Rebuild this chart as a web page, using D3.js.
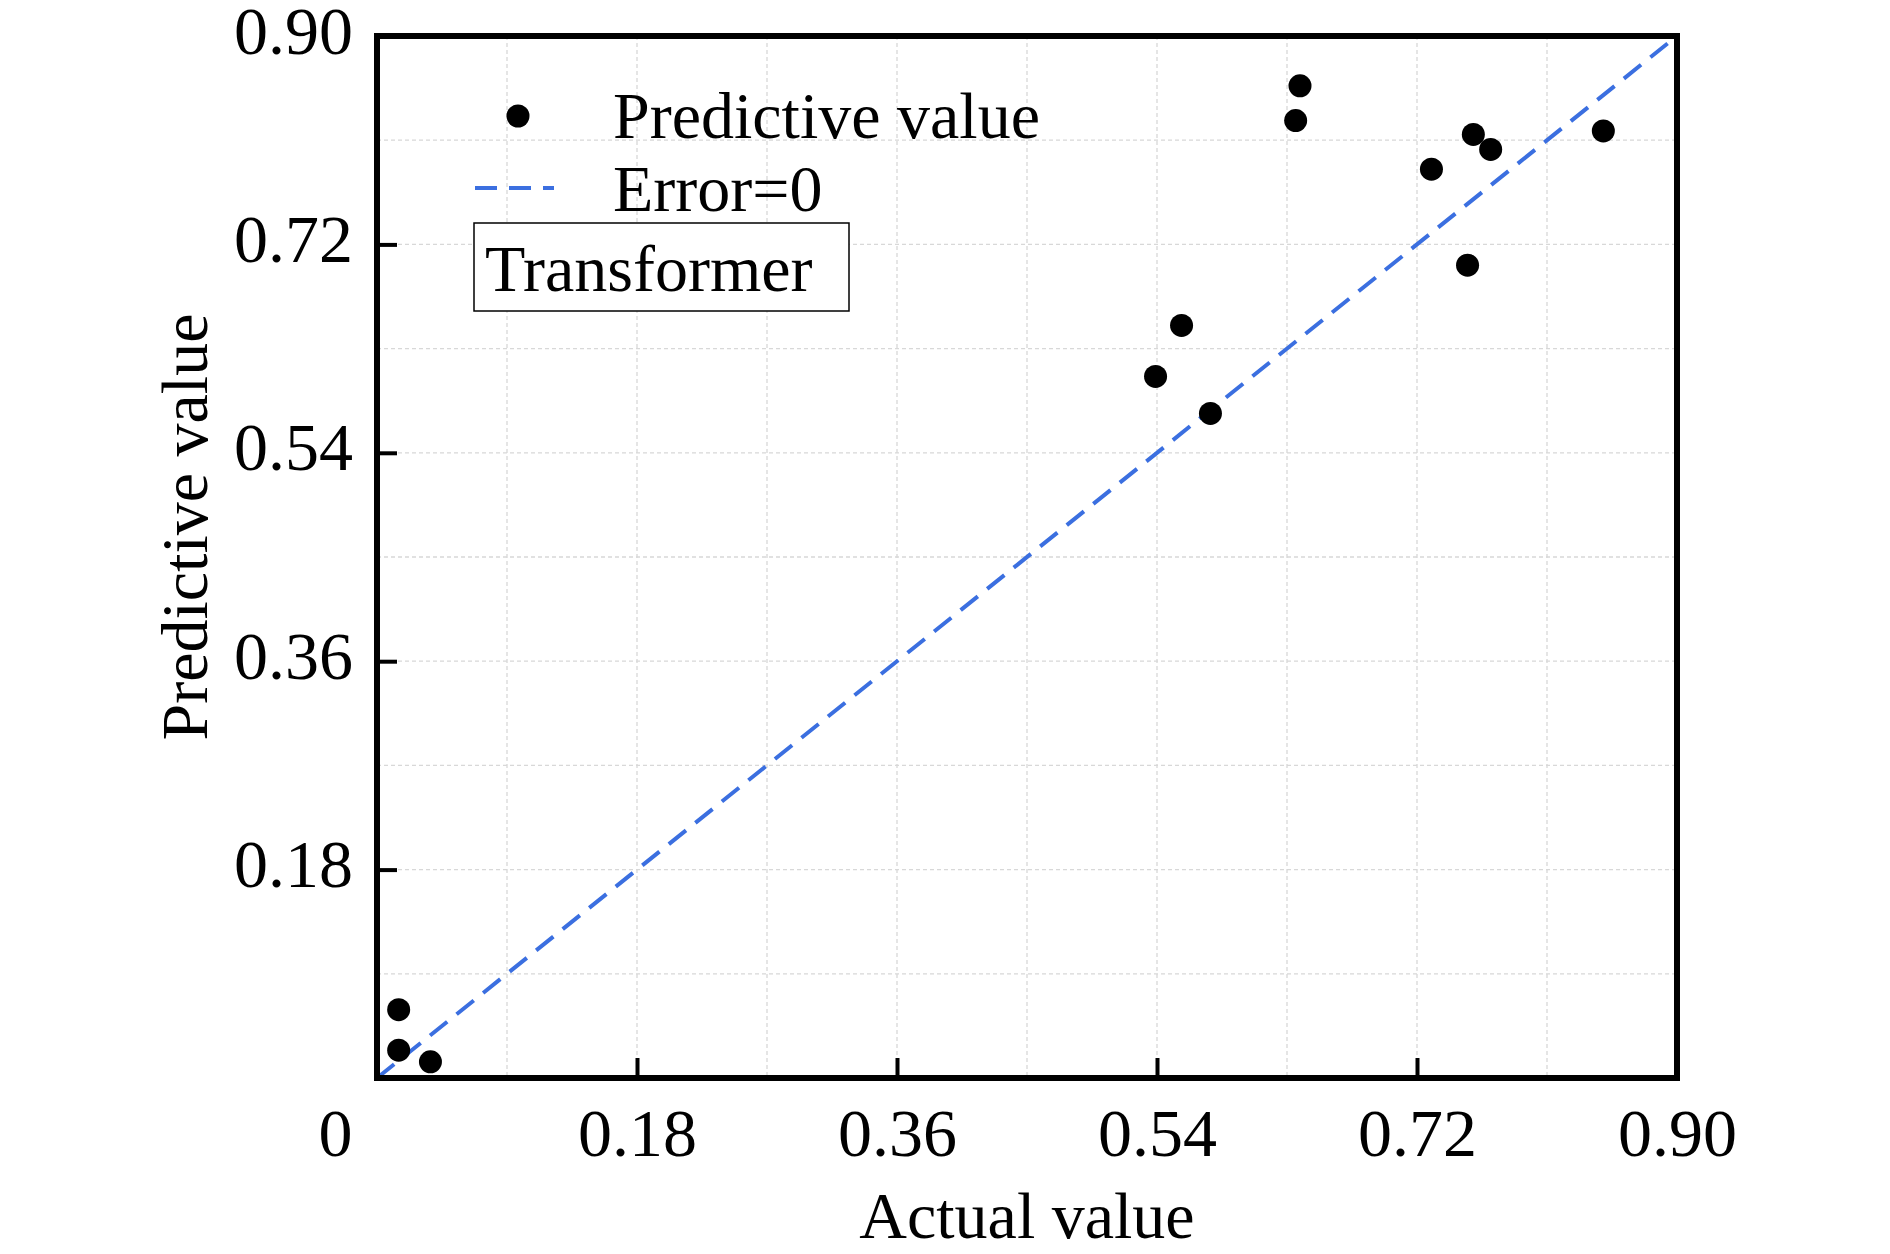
<!DOCTYPE html>
<html>
<head>
<meta charset="utf-8">
<script src="https://cdn.jsdelivr.net/npm/d3@7"></script>
<style>
  body { margin: 0; background: #fff; }
  text { font-family: "Liberation Serif", "Times New Roman", serif; fill: #000; }
</style>
</head>
<body>
<svg id="chart" width="1890" height="1254"></svg>
<script>
// values
const actual    = [0.015, 0.015, 0.037, 0.539, 0.557, 0.577, 0.636, 0.639, 0.730, 0.759, 0.771, 0.755, 0.849];
const predicted = [0.059, 0.024, 0.014, 0.606, 0.650, 0.574, 0.827, 0.857, 0.785, 0.815, 0.802, 0.702, 0.818];
const majorTicks = [0, 0.18, 0.36, 0.54, 0.72, 0.90];
const gridTicks = [0.09, 0.18, 0.27, 0.36, 0.45, 0.54, 0.63, 0.72, 0.81];
const legendLabels = ['Predictive value', 'Error=0'];
const modelName = 'Transformer';

const margin = { top: 36, right: 213, bottom: 176, left: 377 };
const width = 1890 - margin.left - margin.right;
const height = 1254 - margin.top - margin.bottom;

const svg = d3.select('#chart')
    .append('g')
    .attr('transform', `translate(${margin.left}, ${margin.top})`);

const x = d3.scaleLinear().domain([0, 0.9]).range([0, width]);
const y = d3.scaleLinear().domain([0, 0.9]).range([height, 0]);

// grid
svg.append('g').selectAll('line.gx').data(gridTicks).enter().append('line')
    .attr('x1', d => x(d)).attr('x2', d => x(d)).attr('y1', 0).attr('y2', height)
    .attr('stroke', '#d8d8d8').attr('stroke-width', 1.3).attr('stroke-dasharray', '4,3');
svg.append('g').selectAll('line.gy').data(gridTicks).enter().append('line')
    .attr('y1', d => y(d)).attr('y2', d => y(d)).attr('x1', 0).attr('x2', width)
    .attr('stroke', '#d8d8d8').attr('stroke-width', 1.3).attr('stroke-dasharray', '4,3');

// axes
const fmt = d => d === 0 ? '0' : d.toFixed(2);
const xAxis = svg.append('g')
    .attr('transform', `translate(0, ${height})`)
    .call(d3.axisBottom(x).tickValues(majorTicks).tickFormat(fmt).tickSize(-20).tickPadding(30));
xAxis.selectAll('text').attr('font-size', 68).attr('dy', '0.71em')
    .attr('dx', d => d === 0 ? -42 : 0);
xAxis.selectAll('.tick line').attr('stroke-width', 4);
xAxis.select('.domain').remove();

const yAxis = svg.append('g')
    .call(d3.axisLeft(y).tickValues(majorTicks.slice(1)).tickFormat(fmt).tickSize(-20).tickPadding(24));
yAxis.selectAll('text').attr('font-size', 68).attr('dy', '0.25em');
yAxis.selectAll('.tick line').attr('stroke-width', 4);
yAxis.select('.domain').remove();

// error=0 line
svg.append('line')
    .attr('x1', x(0)).attr('y1', y(0)).attr('x2', x(0.9)).attr('y2', y(0.9))
    .attr('stroke', '#3b6fe0').attr('stroke-width', 4).attr('stroke-dasharray', '22,12');

// points
svg.selectAll('circle.pt').data(actual).enter().append('circle')
    .attr('cx', d => x(d))
    .attr('cy', (d, i) => y(predicted[i]))
    .attr('r', 11.5).attr('fill', '#000');

// frame
svg.append('rect').attr('width', width).attr('height', height)
    .attr('fill', 'none').attr('stroke', '#000').attr('stroke-width', 6);

// legend
svg.append('circle').attr('cx', 141).attr('cy', 80).attr('r', 11.5).attr('fill', '#000');
svg.append('text').attr('x', 236).attr('y', 102).attr('font-size', 66).text(legendLabels[0]);
svg.append('line').attr('x1', 98).attr('x2', 177).attr('y1', 152).attr('y2', 152)
    .attr('stroke', '#3b6fe0').attr('stroke-width', 4).attr('stroke-dasharray', '22,12');
svg.append('text').attr('x', 236).attr('y', 175).attr('font-size', 66).text(legendLabels[1]);
svg.append('rect').attr('x', 97).attr('y', 187).attr('width', 375).attr('height', 88)
    .attr('fill', '#fff').attr('stroke', '#000').attr('stroke-width', 1.5);
svg.append('text').attr('x', 108).attr('y', 255).attr('font-size', 66).text(modelName);

// titles
svg.append('text').attr('x', width / 2).attr('y', height + 160)
    .attr('text-anchor', 'middle').attr('font-size', 66).text('Actual value');
svg.append('text')
    .attr('transform', `translate(-170, ${height / 2 - 30}) rotate(-90)`)
    .attr('text-anchor', 'middle').attr('font-size', 66).text('Predictive value');
</script>
</body>
</html>
